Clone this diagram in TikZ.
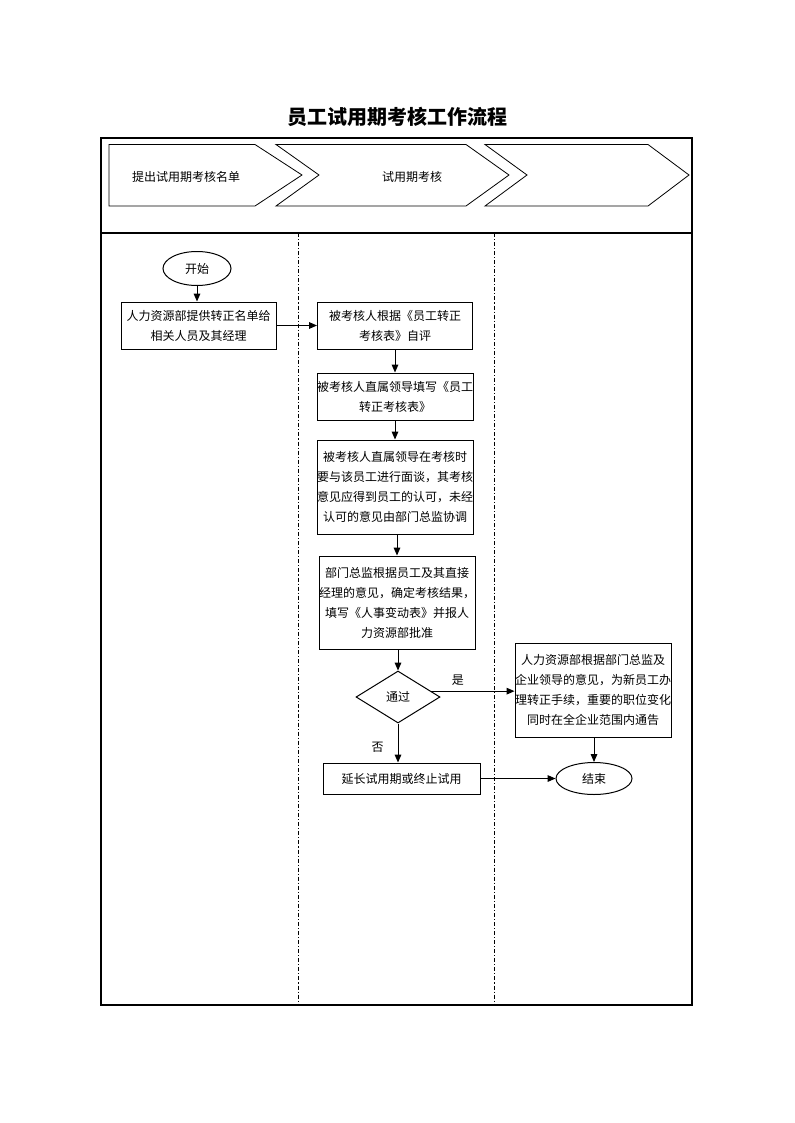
\documentclass[tikz,border=0pt]{standalone}
\usepackage{fontspec}
\setmainfont{Noto Sans CJK SC}
\newfontfamily\cjk{Noto Sans CJK SC}
\usetikzlibrary{shapes.geometric,arrows.meta}
\begin{document}
\begin{tikzpicture}[x=0.75pt,y=-0.75pt,
  every node/.style={font=\cjk\fontsize{9}{15}\selectfont, inner sep=0pt},
  box/.style={draw, line width=0.75pt, align=center, rectangle},
  term/.style={draw, line width=0.75pt, ellipse},
  dec/.style={draw, line width=0.75pt, diamond},
  chev/.style={draw, line width=0.6pt},
  lane/.style={line width=0.75pt, dash pattern=on 3pt off 1.5pt on 0.8pt off 1.5pt},
  frame/.style={line width=1.1pt},
  arr/.style={-{Triangle[length=6pt,width=5pt]}, line width=0.75pt},
  lbl/.style={font=\cjk\fontsize{9}{15}\selectfont}
]
\useasboundingbox (0,0) rectangle (794,1123);

% title
\node[font=\cjk\bfseries\fontsize{15}{18}\selectfont] (title) at (397,117) {员工试用期考核工作流程};

% frame
\draw[frame] (101,138) rectangle (692,1005);
\draw[frame] (101,233) -- (692,233);
\draw[lane] (298,233) -- (298,1005);
\draw[lane] (494,233) -- (494,1005);

% header chevrons
\draw[chev] (109,144.5) -- (255,144.5) -- (302,175) -- (255,206) -- (109,206) -- cycle;
\draw[chev] (276,144.5) -- (466,144.5) -- (509,175) -- (466,206) -- (276,206) -- (319,175) -- cycle;
\draw[chev] (485,144.5) -- (648,144.5) -- (689,175) -- (648,206) -- (485,206) -- (527,175) -- cycle;
\node (h1) at (186,177) {提出试用期考核名单};
\node (h2) at (412,177) {试用期考核};

% flow nodes
\node[term, minimum width=68*0.75pt, minimum height=34*0.75pt] (start) at (197,268.5) {开始};
\node[box, minimum width=155*0.75pt, minimum height=47*0.75pt] (b1) at (198.5,325.5)
  {人力资源部提供转正名单给\\相关人员及其经理};
\node[box, minimum width=155*0.75pt, minimum height=47*0.75pt] (b2) at (395,325.5)
  {被考核人根据《员工转正\\考核表》自评};
\node[box, minimum width=156*0.75pt, minimum height=47*0.75pt] (b3) at (395,396.5)
  {被考核人直属领导填写《员工\\转正考核表》};
\node[box, minimum width=156*0.75pt, minimum height=94*0.75pt] (b4) at (395,487)
  {被考核人直属领导在考核时\\要与该员工进行面谈，其考核\\意见应得到员工的认可，未经\\认可的意见由部门总监协调};
\node[box, minimum width=156*0.75pt, minimum height=93*0.75pt] (b5) at (397,602.5)
  {部门总监根据员工及其直接\\经理的意见，确定考核结果，\\填写《人事变动表》并报人\\力资源部批准};
\node[dec, minimum width=84*0.75pt, minimum height=52*0.75pt, aspect=1.6] (d) at (398,697) {通过};
\node[box, minimum width=156*0.75pt, minimum height=94*0.75pt] (b6) at (593,690)
  {人力资源部根据部门总监及\\企业领导的意见，为新员工办\\理转正手续，重要的职位变化\\同时在全企业范围内通告};
\node[box, minimum width=157*0.75pt, minimum height=31*0.75pt] (b7) at (401.5,778.5)
  {延长试用期或终止试用};
\node[term, minimum width=76*0.75pt, minimum height=32*0.75pt] (end) at (594,778.5) {结束};

% connectors
\draw[arr] (start.south) -- (start.south |- b1.north);
\draw[arr] (b1.east) -- (b2.west);
\draw[arr] (b2.south) -- (b3.north);
\draw[arr] (b3.south) -- (b4.north);
\draw[arr] (b5.north |- b4.south) -- (b5.north);
\draw[arr] (d.north |- b5.south) -- (d.north);
\draw[arr] (d.10) -- (d.10 -| b6.west) node[lbl, pos=0.32, above=4pt] (yes) {是};
\draw[arr] (d.south) -- (d.south |- b7.north) node[lbl, pos=0.6, left=10.5pt] (no) {否};
\draw[arr] (b6.south -| end.north) -- (end.north);
\draw[arr] (b7.east) -- (end.west);
\end{tikzpicture}
\end{document}
